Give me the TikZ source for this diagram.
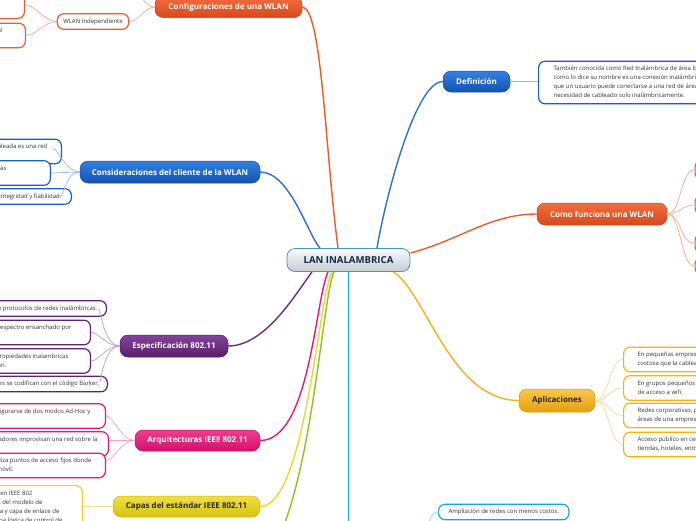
\documentclass[tikz,border=0pt]{standalone}
\usepackage{fontspec}
\setmainfont{Open Sans}
\usetikzlibrary{backgrounds}
\newcommand{\rln}[2]{\makebox[130pt][r]{\strut#2\kern#1pt}}
\newcommand{\lln}[1]{\strut#1}
\definecolor{orMain}{HTML}{F05A28}\definecolor{orT}{HTML}{F36D3D}\definecolor{orB}{HTML}{D8481D}
\definecolor{orD}{HTML}{C9431C}\definecolor{orLeaf}{HTML}{EE5A2A}\definecolor{orSub}{HTML}{F6A98C}
\definecolor{blMain}{HTML}{2A70D8}\definecolor{blT}{HTML}{3481E0}\definecolor{blB}{HTML}{1252B2}
\definecolor{blD}{HTML}{1450AA}\definecolor{blLeaf}{HTML}{1C5DC4}\definecolor{blSub}{HTML}{93B9EC}
\definecolor{puMain}{HTML}{6A2B80}\definecolor{puT}{HTML}{82449A}\definecolor{puB}{HTML}{5A1E6E}
\definecolor{puD}{HTML}{4F1A62}\definecolor{puLeaf}{HTML}{5E2372}\definecolor{puSub}{HTML}{BE9CCB}
\definecolor{piMain}{HTML}{E8177D}\definecolor{piT}{HTML}{F03E8E}\definecolor{piB}{HTML}{D2106A}
\definecolor{piD}{HTML}{C20E62}\definecolor{piLeaf}{HTML}{E3167A}\definecolor{piSub}{HTML}{F4A0C6}
\definecolor{yeMain}{HTML}{E9DA2A}\definecolor{yeT}{HTML}{F0E040}\definecolor{yeB}{HTML}{D6C212}
\definecolor{yeD}{HTML}{C8B50E}\definecolor{yeLeaf}{HTML}{E6D31E}\definecolor{yeSub}{HTML}{F0E58E}
\definecolor{amMain}{HTML}{F5B01C}\definecolor{amT}{HTML}{F9C84A}\definecolor{amB}{HTML}{E6A00E}
\definecolor{amD}{HTML}{D8950A}\definecolor{amLeaf}{HTML}{F4B01E}\definecolor{amSub}{HTML}{F9D98E}
\definecolor{gnMain}{HTML}{8DC21F}\definecolor{cyMain}{HTML}{1BA3E3}\definecolor{cySub}{HTML}{8CD3F2}
\definecolor{ceT}{HTML}{FAFBFC}\definecolor{ceB}{HTML}{C4CDD4}\definecolor{ceD}{HTML}{4E92CC}
\definecolor{ceText}{HTML}{16284A}\definecolor{leafText}{HTML}{333333}
\begin{document}
\begin{tikzpicture}[x=1pt,y=-1pt,
  main/.style={draw, rounded corners=8pt, line width=0.5pt, inner sep=0pt,
    font=\fontsize{8}{9}\selectfont\bfseries, text=white, minimum height=21pt},
  central/.style={draw=ceD, line width=0.8pt, rounded corners=8pt, top color=ceT, bottom color=ceB,
    text=ceText, font=\fontsize{9.6}{10}\selectfont\bfseries, minimum width=123pt,
    minimum height=23pt, inner sep=0pt},
  leaf/.style={draw, fill=white, rounded corners=6.5pt, line width=1.2pt, inner ysep=3.3pt,
    font=\fontsize{6}{9}\selectfont, text=leafText},
  leafL/.style={leaf, anchor=east, align=right},
  leafR/.style={leaf, anchor=west, align=left},
  trunk/.style={line width=1.4pt},
  twig/.style={line width=0.7pt}]
\useasboundingbox (0,0) rectangle (696,520);
\clip (0,0) rectangle (696,520);

% ---- main nodes
\node[central] (c) at (348.5,260) {LAN INALAMBRICA};
\node[main, top color=orT, bottom color=orB, draw=orD, minimum width=147pt] (cfg) at (228.5,7) {Configuraciones de una WLAN};
\node[main, top color=blT, bottom color=blB, draw=blD, minimum width=180pt, minimum height=22pt] (cons) at (170,172) {Consideraciones del cliente de la WLAN};
\node[main, top color=puT, bottom color=puB, draw=puD, minimum width=108pt, minimum height=22pt] (esp) at (174,346) {Especificación 802.11};
\node[main, top color=piT, bottom color=piB, draw=piD, minimum width=125pt] (arq) at (197.5,440.5) {Arquitecturas IEEE 802.11};
\node[main, top color=yeT, bottom color=yeB, draw=yeD, text=black!85, minimum width=147pt] (cap) at (186.5,506.5) {Capas del estándar IEEE 802.11};
\node[main, top color=blT, bottom color=blB, draw=blD, minimum width=67pt] (def) at (476.5,81.5) {Definición};
\node[main, top color=orT, bottom color=orB, draw=orD, minimum width=130pt, minimum height=22pt] (como) at (602,214) {Como funciona una WLAN};
\node[main, top color=amT, bottom color=amB, draw=amD, text=black!85, minimum width=76pt, minimum height=23pt] (apl) at (557,400.5) {Aplicaciones};

% ---- configuraciones
\node[leaf, draw=orLeaf, inner xsep=6pt] (wind) at (93,21.5) {\lln{WLAN Independiente}};
\node[leaf, draw=orLeaf, anchor=south east, minimum width=70pt, minimum height=27pt] (cfa) at (25,19) {};
\node[leafL, draw=orLeaf, inner xsep=23pt] (cfb) at (26,35.5) {\rln{0}{al}\\\rln{0}{}};

% ---- consideraciones
\node[leafL, draw=blLeaf, inner xsep=14pt] (csa) at (62,151.5) {\rln{0}{empleada es una red}\\\rln{0}{}};
\node[leafL, draw=blLeaf, inner xsep=44pt] (csb) at (51,173) {\rln{0}{más}\\\rln{0}{}};
\node[leafL, draw=blLeaf, inner xsep=10pt] (csc) at (72,196.5) {\rln{0}{Integridad y fiabilidad.}};

% ---- especificacion
\node[leafL, draw=puLeaf, inner xsep=9pt] (p1) at (107,308.5) {\rln{0}{definen protocolos de redes inalámbricas.}};
\node[leafL, draw=puLeaf, inner xsep=19pt] (p2) at (91,332.5) {\rln{0}{de espectro ensanchado por}\\\rln{0}{}};
\node[leafL, draw=puLeaf, inner xsep=22pt] (p3) at (91,361) {\rln{0}{con propiedades inalambricas}\\\rln{62}{ción.}};
\node[leafL, draw=puLeaf, inner xsep=8pt] (p4) at (108,384) {\rln{0}{Las señales se codifican con el código Barker.}};

% ---- arquitecturas
\node[leafL, draw=piLeaf, inner xsep=15pt] (a1) at (106,416) {\rln{0}{puede configurarse de dos modos Ad-Hoc y}\\\rln{0}{}};
\node[leafL, draw=piLeaf, inner xsep=11pt] (a2) at (109,444) {\rln{0}{los ordenadores improvisan una red sobre la}\\\rln{0}{}};
\node[leafL, draw=piLeaf, inner xsep=14pt] (a3) at (106,465.5) {\rln{0}{utiliza puntos de acceso fijos donde}\\\rln{78}{móvil.}};

% ---- capas
\node[leafL, draw=yeLeaf, inner xsep=20pt, anchor=north east] (y1) at (83,485) {\rln{30}{definidas en IEEE 802}\\\rln{20}{capas del modelo de}\\\rln{3}{física y capa de enlace de}\\\rln{0}{capa lógica de control de}\\\rln{0}{}};

% ---- definicion
\node[leafR, draw=blLeaf, inner xsep=15pt] (d1) at (538,82.5) {\lln{También conocida como Red Inalámbrica de área local,}\\\lln{como lo dice su nombre es una conexión inalámbrica,}\\\lln{que un usuario puede conectarse a una red de área}\\\lln{necesidad de cableado solo inalámbricamente.}};

% ---- como funciona
\node[leafR, draw=orLeaf, minimum width=60pt, minimum height=19pt] (cw1) at (694.5,170) {};
\node[leafR, draw=orLeaf, minimum width=60pt, minimum height=19pt] (cw2) at (694.5,205) {};
\node[leafR, draw=orLeaf, minimum width=60pt, minimum height=19pt] (cw3) at (694.5,243.5) {};
\node[leafR, draw=orLeaf, minimum width=60pt, minimum height=17pt] (cw4) at (694.5,266) {};

% ---- aplicaciones
\node[leafR, draw=amLeaf, inner xsep=14pt] (ap1) at (623,359.5) {\lln{En pequeñas empresas donde la red}\\\lln{costosa que la cableada.}};
\node[leafR, draw=amLeaf, inner xsep=14pt] (ap2) at (623,388) {\lln{En grupos pequeños donde}\\\lln{de acceso a wifi.}};
\node[leafR, draw=amLeaf, inner xsep=14pt] (ap3) at (623,415.5) {\lln{Redes corporativas, para}\\\lln{áreas de una empresa.}};
\node[leafR, draw=amLeaf, inner xsep=14pt] (ap4) at (623,444.5) {\lln{Acceso público en centros}\\\lln{tiendas, hoteles, entre otros.}};

% ---- bottom cyan leaf
\node[leafR, draw=cyMain, inner xsep=10pt] (amp) at (438,512) {\lln{Ampliación de redes con menos costos.}};

% ---- free ends
\coordinate (cfgup) at (138,-8);
\coordinate (gnEnd) at (240,575);
\coordinate (cyEnd) at (348.5,560);
\coordinate (ampP) at (427,537);

\begin{pgfonlayer}{background}
\clip (0,0) rectangle (696,520);
\fill[white] (0,0) rectangle (696,520);
\draw[trunk, orMain] (cfg.east) .. controls (322,8) and (325,150) .. ([xshift=-10.5pt]c.north);
\draw[trunk, blMain] (cons.east) .. controls (290,172) and (308,235) .. ([xshift=-28.5pt]c.north);
\draw[trunk, puMain] ([xshift=-36.5pt]c.south) .. controls (295,295) and (265,346) .. (esp.east);
\draw[trunk, piMain] ([xshift=-20.5pt]c.south) .. controls (315,300) and (310,440.5) .. (arq.east);
\draw[trunk, yeMain] ([xshift=-16.5pt]c.south) .. controls (318,300) and (305,506.5) .. (cap.east);
\draw[trunk, gnMain] ([xshift=-14.5pt]c.south) .. controls (320,300) and (308,575) .. (gnEnd);
\draw[trunk, cyMain] (c.south) -- (cyEnd);
\draw[trunk, blMain] ([xshift=28.5pt]c.north) .. controls (385,200) and (415,81.5) .. (def.west);
\draw[trunk, orMain] ([yshift=7pt]c.east) .. controls (460,240) and (490,214) .. (como.west);
\draw[trunk, amMain] ([xshift=44.5pt]c.south) .. controls (425,290) and (450,400.5) .. (apl.west);
\end{pgfonlayer}

% ---- twigs
\draw[twig, orSub] (cfg.west) .. controls +(-9,0) and +(9,0) .. (wind.east);
\draw[twig, orSub] (cfg.west) .. controls +(-8,0) and +(3,5) .. (cfgup);
\draw[twig, orSub] (wind.west) .. controls +(-12,0) and +(10,0) .. (cfa.east);
\draw[twig, orSub] (wind.west) .. controls +(-12,0) and +(10,0) .. (cfb.east);

\draw[twig, blSub] (cons.west) .. controls +(-14,0) and +(4,0) .. ([xshift=-9pt,yshift=3.5pt]csa.east);
\draw[twig, blSub] (cons.west) -- (csb.east);
\draw[twig, blSub] (cons.west) .. controls +(-14,0) and +(4,0) .. ([xshift=-12pt]csc.east);

\draw[twig, puSub] (esp.west) .. controls +(-14,0) and +(2,8) .. ([xshift=-8pt]p1.east);
\draw[twig, puSub] (esp.west) .. controls +(-14,0) and +(8,0) .. (p2.east);
\draw[twig, puSub] (esp.west) .. controls +(-14,0) and +(8,0) .. (p3.east);
\draw[twig, puSub] (esp.west) .. controls +(-14,0) and +(2,-8) .. ([xshift=-8pt,yshift=2pt]p4.east);

\draw[twig, piSub] (arq.west) .. controls +(-14,0) and +(8,0) .. (a1.east);
\draw[twig, piSub] (arq.west) -- ([yshift=3.5pt]a2.east);
\draw[twig, piSub] (arq.west) .. controls +(-14,0) and +(8,0) .. ([yshift=5pt]a3.east);

\draw[twig, yeSub] (cap.west) -- ([yshift=-21.5pt]y1.north east);

\draw[twig, blSub] (def.east) -- ([yshift=1pt]d1.west);

\draw[twig, orSub] (como.east) .. controls +(14,0) and +(-14,0) .. (cw1.west);
\draw[twig, orSub] (como.east) .. controls +(14,0) and +(-14,0) .. (cw2.west);
\draw[twig, orSub] (como.east) .. controls +(14,0) and +(-14,0) .. (cw3.west);
\draw[twig, orSub] (como.east) .. controls +(14,0) and +(-14,0) .. (cw4.west);

\draw[twig, amSub] (apl.east) .. controls +(14,0) and +(-14,0) .. (ap1.west);
\draw[twig, amSub] (apl.east) .. controls +(14,0) and +(-14,0) .. (ap2.west);
\draw[twig, amSub] (apl.east) .. controls +(14,0) and +(-14,0) .. (ap3.west);
\draw[twig, amSub] (apl.east) .. controls +(14,0) and +(-14,0) .. (ap4.west);

\draw[twig, cySub] (ampP) .. controls +(0,-16) and +(-6,0) .. (amp.west);
\end{tikzpicture}
\end{document}
